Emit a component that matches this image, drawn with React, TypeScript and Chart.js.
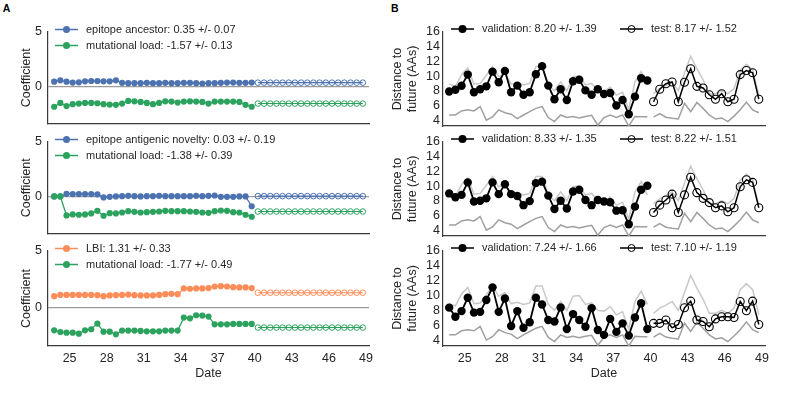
import React, { useEffect, useRef } from "react";
import { Chart, registerables } from "chart.js";

Chart.register(...registerables);

const FONT = "'Liberation Sans', Arial, Helvetica, sans-serif";
const TEXT = "#262626";
const AXIS = "#3a3a3a";
const BLUE = "#4c72b0";
const GREEN = "#2ca25f";
const ORANGE = "#fc8d59";
const LIGHT_GRAY = "#c8c8c8";
const DARK_GRAY = "#a0a0a0";

// ---------- categories / ticks ----------
const valDates = [23.75, 24.25, 24.75, 25.25, 25.75, 26.25, 26.75, 27.25, 27.75, 28.25, 28.75, 29.25, 29.75, 30.25, 30.75, 31.25, 31.75, 32.25, 32.75, 33.25, 33.75, 34.25, 34.75, 35.25, 35.75, 36.25, 36.75, 37.25, 37.75, 38.25, 38.75, 39.25, 39.75];
const testDates = [40.25, 40.75, 41.25, 41.75, 42.25, 42.75, 43.25, 43.75, 44.25, 44.75, 45.25, 45.75, 46.25, 46.75, 47.25, 47.75, 48.25, 48.75];
const dateTicks = [25, 28, 31, 34, 37, 40, 43, 46, 49];
const coefTicks = [0, 5];
const distTicks = [4, 6, 8, 10, 12, 14, 16];

// ---------- panel A1 ----------
const a1AncestorVal = [0.44, 0.56, 0.44, 0.36, 0.38, 0.47, 0.5, 0.5, 0.47, 0.47, 0.56, 0.33, 0.3, 0.3, 0.3, 0.33, 0.3, 0.3, 0.33, 0.3, 0.3, 0.33, 0.33, 0.3, 0.27, 0.3, 0.3, 0.33, 0.36, 0.36, 0.33, 0.33, 0.36];
const a1AncestorTest = [0.35, 0.35, 0.35, 0.35, 0.35, 0.35, 0.35, 0.35, 0.35, 0.35, 0.35, 0.35, 0.35, 0.35, 0.35, 0.35, 0.35, 0.35];
const a1LoadVal = [-1.86, -1.51, -1.8, -1.63, -1.57, -1.51, -1.51, -1.54, -1.63, -1.66, -1.69, -1.57, -1.33, -1.36, -1.42, -1.51, -1.63, -1.51, -1.36, -1.39, -1.48, -1.39, -1.36, -1.39, -1.42, -1.57, -1.39, -1.39, -1.39, -1.39, -1.42, -1.69, -1.86];
const a1LoadTest = [-1.57, -1.57, -1.57, -1.57, -1.57, -1.57, -1.57, -1.57, -1.57, -1.57, -1.57, -1.57, -1.57, -1.57, -1.57, -1.57, -1.57, -1.57];

// ---------- panel A2 ----------
const a2NoveltyVal = [0, 0, 0.24, 0.22, 0.22, 0.22, 0.22, 0.2, -0.09, -0.03, 0, 0.03, 0.06, 0.03, 0, 0.03, 0.03, 0.06, 0.03, 0.03, 0.03, 0.03, 0.03, 0.06, 0.03, 0.06, 0.09, -0.03, -0.03, -0.03, 0, 0, -0.9];
const a2NoveltyTest = [0.03, 0.03, 0.03, 0.03, 0.03, 0.03, 0.03, 0.03, 0.03, 0.03, 0.03, 0.03, 0.03, 0.03, 0.03, 0.03, 0.03, 0.03];
const a2LoadVal = [0, 0, -1.74, -1.65, -1.68, -1.65, -1.56, -1.32, -1.77, -1.53, -1.56, -1.47, -1.35, -1.41, -1.47, -1.44, -1.41, -1.38, -1.32, -1.35, -1.35, -1.35, -1.38, -1.41, -1.47, -1.5, -1.35, -1.29, -1.32, -1.44, -1.47, -1.68, -1.86];
const a2LoadTest = [-1.38, -1.38, -1.38, -1.38, -1.38, -1.38, -1.38, -1.38, -1.38, -1.38, -1.38, -1.38, -1.38, -1.38, -1.38, -1.38, -1.38, -1.38];

// ---------- panel A3 ----------
const a3LbiVal = [1.01, 1.12, 1.12, 1.12, 1.12, 1.12, 1.12, 1.09, 1.01, 1.07, 1.09, 1.12, 1.15, 1.09, 1.07, 1.07, 1.07, 1.12, 1.18, 1.21, 1.18, 1.69, 1.66, 1.69, 1.69, 1.72, 1.86, 1.89, 1.86, 1.8, 1.78, 1.78, 1.72];
const a3LbiTest = [1.31, 1.31, 1.31, 1.31, 1.31, 1.31, 1.31, 1.31, 1.31, 1.31, 1.31, 1.31, 1.31, 1.31, 1.31, 1.31, 1.31, 1.31];
const a3LoadVal = [-2.01, -2.16, -2.22, -2.22, -2.31, -2.01, -1.92, -1.42, -2.13, -2.13, -2.37, -2.04, -2.04, -2.04, -2.07, -2.1, -2.1, -2.1, -2.04, -2.04, -2.04, -0.89, -0.95, -0.68, -0.71, -0.8, -1.48, -1.48, -1.48, -1.45, -1.45, -1.45, -1.45];
const a3LoadTest = [-1.77, -1.77, -1.77, -1.77, -1.77, -1.77, -1.77, -1.77, -1.77, -1.77, -1.77, -1.77, -1.77, -1.77, -1.77, -1.77, -1.77, -1.77];

// ---------- reference lines for B (shared) ----------
const naiveVal = [8.9, 8.6, 10.2, 11.1, 8.9, 9.0, 10.1, 11.3, 9.9, 10.4, 8.9, 9.1, 8.8, 9.0, 11.3, 11.3, 8.8, 8.0, 9.2, 8.0, 9.9, 10.0, 8.8, 9.0, 8.0, 7.9, 8.5, 7.4, 7.8, 5.5, 9.2, 10.6, 8.8];
const naiveTest = [7.6, 8.3, 8.7, 9.2, 8.0, 10.4, 12.7, 11.0, 9.5, 7.6, 7.6, 8.0, 7.6, 8.3, 10.8, 11.6, 10.8, 7.4];
const optimalVal = [4.7, 4.7, 5.25, 5.4, 5.25, 5.85, 4.0, 4.45, 5.4, 5.0, 4.8, 4.2, 4.7, 5.15, 5.6, 5.85, 4.35, 3.8, 4.7, 4.35, 4.5, 4.3, 4.5, 4.65, 3.3, 4.35, 4.7, 4.35, 4.7, 3.2, 4.5, 4.45, 4.45];
const optimalTest = [4.4, 4.9, 4.4, 4.25, 4.15, 6.3, 5.15, 6.4, 5.6, 4.7, 4.15, 4.3, 3.8, 4.55, 5.4, 6.45, 5.4, 5.0];

// ---------- panel B1..B3 model distances ----------
const b1Val = [7.9, 8.14, 8.69, 10.2, 7.8, 8.2, 8.6, 10.6, 9.15, 10.7, 7.8, 8.7, 7.45, 7.8, 10.25, 11.35, 8.7, 6.85, 8.2, 6.75, 9.3, 9.5, 8.05, 7.45, 8.2, 7.55, 7.7, 6.0, 6.75, 4.8, 7.2, 9.7, 9.4];
const b1Test = [6.5, 8.2, 8.95, 9.2, 6.5, 9.15, 11.0, 8.6, 8.37, 7.45, 6.85, 7.6, 6.5, 6.85, 10.2, 10.75, 10.45, 6.85];
const b2Val = [9.0, 8.47, 8.8, 10.5, 7.9, 8.0, 8.33, 10.5, 8.9, 10.25, 8.9, 8.65, 7.4, 7.95, 10.4, 10.6, 8.7, 6.87, 8.0, 6.95, 9.25, 9.5, 8.1, 7.4, 8.1, 7.9, 7.8, 6.65, 6.7, 4.8, 7.2, 9.5, 10.05];
const b2Test = [6.4, 7.4, 8.1, 8.9, 6.4, 8.8, 11.2, 9.1, 8.33, 7.75, 7.05, 7.3, 6.5, 7.05, 9.9, 10.85, 10.5, 7.05];
const b3Val = [8.37, 7.15, 7.9, 9.7, 7.7, 7.8, 9.4, 11.1, 7.8, 9.6, 5.9, 7.9, 5.65, 6.4, 9.7, 8.8, 6.7, 6.5, 8.4, 5.5, 7.5, 6.7, 5.8, 8.3, 5.35, 4.7, 6.85, 5.1, 6.25, 4.6, 7.05, 8.95, 5.5];
const b3Test = [6.25, 6.25, 6.7, 5.65, 6.1, 8.35, 9.25, 6.7, 6.5, 5.8, 6.85, 7.15, 7.15, 7.05, 9.2, 7.95, 9.25, 6.1];

// ---------- helpers ----------
const pts = (xs: number[], ys: number[]) => xs.map((x, i) => ({ x, y: ys[i] }));
const font = (size: number, weight: any = "normal") => ({ family: FONT, size, weight, lineHeight: 1.2 });

type LegendEntry = { text: string; color: string; fill: boolean; r: number; dx: number; dy: number };

function legendPlugin(entries: LegendEntry[]) {
  return {
    id: "customLegend",
    afterDraw(chart: any) {
      const { ctx, chartArea } = chart;
      ctx.save();
      entries.forEach((e) => {
        const x = chartArea.left + e.dx;
        const y = chartArea.top + e.dy;
        ctx.strokeStyle = e.color;
        ctx.lineWidth = 1.5;
        ctx.beginPath();
        ctx.moveTo(x, y);
        ctx.lineTo(x + 23, y);
        ctx.stroke();
        ctx.beginPath();
        ctx.arc(x + 11.5, y, e.r, 0, Math.PI * 2);
        if (e.fill) {
          ctx.fillStyle = e.color;
          ctx.fill();
        } else {
          ctx.lineWidth = 1;
          ctx.stroke();
        }
        ctx.fillStyle = TEXT;
        ctx.font = `11px ${FONT}`;
        ctx.textBaseline = "middle";
        ctx.textAlign = "left";
        ctx.fillText(e.text, x + 31, y);
      });
      ctx.restore();
    },
  };
}

type Geo = { yW: number; padRight: number; showX: boolean };

function xScale(g: Geo) {
  return {
    type: "linear",
    min: 23.25,
    max: 49.25,
    afterBuildTicks: (s: any) => {
      s.ticks = dateTicks.map((v) => ({ value: v }));
    },
    afterFit: (s: any) => {
      s.height = g.showX ? 40 : 1;
    },
    grid: { display: false, drawTicks: false },
    border: { display: true, color: AXIS, width: 1.2 },
    ticks: { display: g.showX, font: font(12.5), color: TEXT, padding: 5, maxRotation: 0, autoSkip: false },
    title: { display: g.showX, text: "Date", font: font(12.5), color: TEXT, padding: { top: 0, bottom: 5 } },
  };
}

function baseOptions(g: Geo, y: any) {
  return {
    animation: false,
    responsive: true,
    maintainAspectRatio: false,
    layout: { padding: { top: 25, right: g.padRight, bottom: g.showX ? 0 : 10, left: 0 } },
    plugins: { legend: { display: false }, tooltip: { enabled: false } },
    scales: { x: xScale(g), y },
  };
}

type CoefSeries = { label: string; color: string; val: number[]; test: number[]; order: number };

function coefConfig(series: CoefSeries[], g: Geo) {
  const datasets: any[] = [];
  series.forEach((s) => {
    datasets.push({
      data: pts(valDates, s.val),
      borderColor: s.color,
      borderWidth: 1.3,
      pointRadius: 3.1,
      pointBorderWidth: 0,
      pointBackgroundColor: s.color,
      tension: 0,
      order: s.order,
    });
    datasets.push({
      data: pts(testDates, s.test),
      borderColor: s.color,
      borderWidth: 1.1,
      pointRadius: 2.8,
      pointBorderWidth: 1,
      pointBorderColor: s.color,
      pointBackgroundColor: "rgba(0,0,0,0)",
      tension: 0,
      order: s.order,
    });
  });
  const y = {
    type: "linear",
    min: -3.4,
    max: 5,
    afterBuildTicks: (s: any) => {
      s.ticks = coefTicks.map((v) => ({ value: v }));
    },
    afterFit: (s: any) => {
      s.width = g.yW;
    },
    grid: {
      display: true,
      drawTicks: false,
      lineWidth: 1.2,
      color: (c: any) => (c.tick && c.tick.value === 0 ? "#9a9a9a" : "rgba(0,0,0,0)"),
    },
    border: { display: true, color: AXIS, width: 1.2 },
    ticks: { font: font(12.5), color: TEXT, padding: 6, autoSkip: false },
    title: { display: true, text: "Coefficient", font: font(12.5), color: TEXT, padding: { top: 19.5, bottom: 0 } },
  };
  const legend: LegendEntry[] = series.map((s, i) => ({
    text: s.label,
    color: s.color,
    fill: true,
    r: 3.5,
    dx: 7,
    dy: i === 0 ? -2.5 : 13.5,
  }));
  return {
    type: "line",
    data: { datasets },
    options: baseOptions(g, y),
    plugins: [legendPlugin(legend)],
  };
}

function distConfig(val: number[], test: number[], valLabel: string, testLabel: string, g: Geo) {
  const datasets: any[] = [
    {
      data: pts(valDates, val),
      borderColor: "#000",
      borderWidth: 1.8,
      pointRadius: 4.2,
      pointBorderWidth: 0,
      pointBackgroundColor: "#000",
      tension: 0,
      order: 0,
    },
    {
      data: pts(testDates, test),
      borderColor: "#000",
      borderWidth: 1.5,
      pointRadius: 4,
      pointBorderWidth: 1.1,
      pointBorderColor: "#000",
      pointBackgroundColor: "rgba(0,0,0,0)",
      tension: 0,
      order: 0,
    },
    { data: pts(valDates, naiveVal), borderColor: LIGHT_GRAY, borderWidth: 1.5, pointRadius: 0, tension: 0, order: 5 },
    { data: pts(testDates, naiveTest), borderColor: LIGHT_GRAY, borderWidth: 1.5, pointRadius: 0, tension: 0, order: 5 },
    { data: pts(valDates, optimalVal), borderColor: DARK_GRAY, borderWidth: 1.5, pointRadius: 0, tension: 0, order: 4 },
    { data: pts(testDates, optimalTest), borderColor: DARK_GRAY, borderWidth: 1.5, pointRadius: 0, tension: 0, order: 4 },
  ];
  const y = {
    type: "linear",
    min: 3.2,
    max: 16,
    afterBuildTicks: (s: any) => {
      s.ticks = distTicks.map((v) => ({ value: v }));
    },
    afterFit: (s: any) => {
      s.width = g.yW;
    },
    grid: { display: false, drawTicks: false },
    border: { display: true, color: AXIS, width: 1.2 },
    ticks: { font: font(12.5), color: TEXT, padding: 3, autoSkip: false },
    title: {
      display: true,
      text: ["Distance to", "future (AAs)"],
      font: font(12.5),
      color: TEXT,
      padding: { top: 10.5, bottom: 0 },
    },
  };
  const legend: LegendEntry[] = [
    { text: valLabel, color: "#000", fill: true, r: 4, dx: 8, dy: -3 },
    { text: testLabel, color: "#000", fill: false, r: 3.5, dx: 177, dy: -3 },
  ];
  return {
    type: "line",
    data: { datasets },
    options: baseOptions(g, y),
    plugins: [legendPlugin(legend)],
  };
}

function ChartBox(props: { left: number; top: number; width: number; height: number; make: () => any }) {
  const ref = useRef<HTMLCanvasElement>(null);
  useEffect(() => {
    const chart = new Chart(ref.current as HTMLCanvasElement, props.make());
    return () => chart.destroy();
  }, []);
  return (
    <div style={{ position: "absolute", left: props.left, top: props.top, width: props.width, height: props.height }}>
      <canvas ref={ref} />
    </div>
  );
}

const rows = [
  { plotTop: 32, plotBottom: 126, showX: false },
  { plotTop: 142, plotBottom: 236, showX: false },
  { plotTop: 251, plotBottom: 346, showX: true },
];

const leftGeo = { left: 0, width: 380, yW: 48, padRight: 11 };
const rightGeo = { left: 380, width: 420, yW: 63, padRight: 35 };

export default function App() {
  const box = (r: { plotTop: number; plotBottom: number; showX: boolean }) => {
    const top = r.plotTop - 25;
    const height = r.plotBottom - top + (r.showX ? 40 : 11);
    return { top, height };
  };

  const aSeries: CoefSeries[][] = [
    [
      { label: "epitope ancestor: 0.35 +/- 0.07", color: BLUE, val: a1AncestorVal, test: a1AncestorTest, order: 1 },
      { label: "mutational load: -1.57 +/- 0.13", color: GREEN, val: a1LoadVal, test: a1LoadTest, order: 0 },
    ],
    [
      { label: "epitope antigenic novelty: 0.03 +/- 0.19", color: BLUE, val: a2NoveltyVal, test: a2NoveltyTest, order: 1 },
      { label: "mutational load: -1.38 +/- 0.39", color: GREEN, val: a2LoadVal, test: a2LoadTest, order: 0 },
    ],
    [
      { label: "LBI: 1.31 +/- 0.33", color: ORANGE, val: a3LbiVal, test: a3LbiTest, order: 1 },
      { label: "mutational load: -1.77 +/- 0.49", color: GREEN, val: a3LoadVal, test: a3LoadTest, order: 0 },
    ],
  ];

  const bData = [
    { val: b1Val, test: b1Test, vl: "validation: 8.20 +/- 1.39", tl: "test: 8.17 +/- 1.52" },
    { val: b2Val, test: b2Test, vl: "validation: 8.33 +/- 1.35", tl: "test: 8.22 +/- 1.51" },
    { val: b3Val, test: b3Test, vl: "validation: 7.24 +/- 1.66", tl: "test: 7.10 +/- 1.19" },
  ];

  return (
    <div style={{ position: "absolute", left: 0, top: 0, width: 800, height: 400, background: "#fff", overflow: "hidden" }}>
      <div style={{ position: "absolute", left: 2.7, top: 2.5, font: `bold 10.5px ${FONT}`, lineHeight: 1, color: "#000" }}>A</div>
      <div style={{ position: "absolute", left: 391, top: 2.5, font: `bold 10.5px ${FONT}`, lineHeight: 1, color: "#000" }}>B</div>
      {rows.map((r, i) => {
        const b = box(r);
        return (
          <ChartBox
            key={"a" + i}
            left={leftGeo.left}
            top={b.top}
            width={leftGeo.width}
            height={b.height}
            make={() => coefConfig(aSeries[i], { yW: leftGeo.yW, padRight: leftGeo.padRight, showX: r.showX })}
          />
        );
      })}
      {rows.map((r, i) => {
        const b = box(r);
        const d = bData[i];
        return (
          <ChartBox
            key={"b" + i}
            left={rightGeo.left}
            top={b.top}
            width={rightGeo.width}
            height={b.height}
            make={() => distConfig(d.val, d.test, d.vl, d.tl, { yW: rightGeo.yW, padRight: rightGeo.padRight, showX: r.showX })}
          />
        );
      })}
    </div>
  );
}
